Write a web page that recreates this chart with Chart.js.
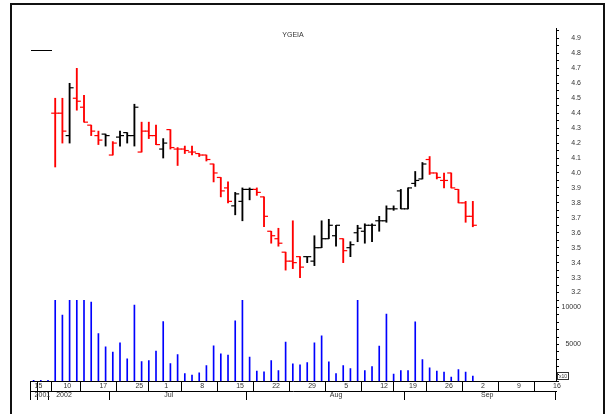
<!DOCTYPE html>
<html>
<head>
<meta charset="utf-8">
<script src="https://cdn.jsdelivr.net/npm/chart.js@4.4.1/dist/chart.umd.min.js"></script>
<style>
  html, body { margin: 0; padding: 0; background: #fff; }
  #wrap { position: relative; width: 605px; height: 414px; overflow: hidden; }
  #frame { position: absolute; left: 10px; top: 3px; width: 591px; height: 430px; border: 2px solid #111; }
  #chart { position: absolute; left: 0; top: 0; }
  #mult { position: absolute; left: 557px; top: 372px; width: 10px; height: 6px; border: 1px solid #333;
          font: 5px 'Liberation Sans', Arial, sans-serif; line-height: 6px; color: #333; text-align: center; }
</style>
</head>
<body>
<div id="wrap">
  <div id="frame"></div>
  <canvas id="chart" width="605" height="414"></canvas>
  <div id="mult">x10</div>
</div>
<script>
const chartTitle = 'YGEIA';

// trading-day axis: tick positions (bar index) and their labels
const dayTickIdx  = [0, 1, 4, 9, 14, 18, 23, 28, 33, 38, 43, 48, 52, 57, 62, 67, 72];
const dayTickText = ['15', '', '10', '17', '25', '1', '8', '15', '22', '29', '5', '12', '19', '26', '2', '9', '16'];
const periodTickIdx  = [0, 1, 3, 18, 41, 62];
const periodTickText = ['2001', '', '2002', 'Jul', 'Aug', 'Sep'];
const volTickVals = [5000, 10000];
const volTickText = ['5000', '10000'];

// volume per bar, from bar 0
const volumes = [
  150, 150, 150, 11000, 8960, 11000, 11000, 11000, 10710, 6480,
  4680, 3960, 5220, 3050, 10310, 2700, 2840, 4100, 8100, 2430,
  3650, 1080, 850, 1170, 2160, 4810, 3730, 3550, 8190, 11000,
  3280, 1390, 1300, 2840, 1490, 5310, 2380, 2240, 2560, 5220,
  6160, 2650, 1080, 2160, 1750, 11000, 1490, 2020, 4770, 9100,
  990, 1490, 1490, 8060, 2970, 1840, 1390, 1260, 580, 1620,
  1260, 720
];

// price bars start at bar 3
const firstPriceBar = 3;
const opens = [
  4.40, 4.40, 4.25, 4.50, 4.44, 4.32, 4.25, 4.26, 4.12, 4.24,
  4.27, 4.25, 4.14, 4.28, 4.25, 4.16, 4.29, 4.16, 4.16, 4.14,
  4.13, 4.12, 4.06, 3.97, 3.90, 3.78, 3.81, 3.89, 3.89, 3.84,
  3.61, 3.56, 3.47, 3.41, 3.44, 3.44, 3.41, 3.50, 3.56, 3.58,
  3.56, 3.50, 3.60, 3.61, 3.65, 3.68, 3.68, 3.76, 3.88, 3.76,
  3.93, 3.96, 4.09, 4.00, 3.95, 4.00, 3.89, 3.80, 3.71
];
const highs = [
  4.50, 4.50, 4.60, 4.70, 4.52, 4.32, 4.28, 4.26, 4.21, 4.28,
  4.27, 4.46, 4.34, 4.34, 4.32, 4.23, 4.29, 4.17, 4.18, 4.18,
  4.13, 4.12, 4.06, 3.97, 3.94, 3.87, 3.90, 3.90, 3.90, 3.84,
  3.61, 3.63, 3.47, 3.68, 3.44, 3.44, 3.58, 3.68, 3.69, 3.65,
  3.56, 3.54, 3.65, 3.66, 3.66, 3.71, 3.78, 3.78, 3.89, 3.90,
  4.01, 4.07, 4.11, 4.00, 4.00, 4.00, 3.89, 3.81, 3.81
];
const lows = [
  4.04, 4.20, 4.20, 4.42, 4.34, 4.25, 4.19, 4.18, 4.12, 4.18,
  4.20, 4.18, 4.14, 4.23, 4.19, 4.10, 4.16, 4.05, 4.13, 4.12,
  4.11, 4.08, 3.94, 3.84, 3.80, 3.72, 3.68, 3.82, 3.85, 3.64,
  3.53, 3.51, 3.35, 3.36, 3.30, 3.40, 3.38, 3.50, 3.56, 3.51,
  3.40, 3.44, 3.54, 3.53, 3.54, 3.61, 3.67, 3.75, 3.76, 3.76,
  3.91, 3.96, 3.99, 3.96, 3.90, 3.90, 3.80, 3.67, 3.64
];
const closes = [
  4.40, 4.28, 4.57, 4.48, 4.34, 4.28, 4.22, 4.25, 4.20, 4.25,
  4.25, 4.44, 4.28, 4.25, 4.19, 4.20, 4.17, 4.16, 4.15, 4.14,
  4.12, 4.09, 4.00, 3.88, 3.81, 3.86, 3.89, 3.89, 3.87, 3.71,
  3.58, 3.53, 3.41, 3.40, 3.37, 3.44, 3.50, 3.56, 3.65, 3.65,
  3.48, 3.52, 3.63, 3.65, 3.65, 3.68, 3.76, 3.76, 3.76, 3.90,
  3.95, 4.06, 4.00, 3.97, 3.95, 3.90, 3.80, 3.71, 3.65
];

const xMin = -0.5, xMax = 72.55;
const font = { family: "'Liberation Sans', Arial, sans-serif", size: 7 };
const textColor = '#333';

// red when the close falls below the previous close
const barColor = k => (k === 0 || closes[k] < closes[k - 1]) ? '#ff0000' : '#000000';

const titleMark = {
  id: 'titleMark',
  afterDraw(chart) {
    const { ctx, chartArea } = chart;
    ctx.save();
    ctx.fillStyle = textColor;
    ctx.font = `7px ${font.family}`;
    ctx.textAlign = 'center';
    ctx.textBaseline = 'middle';
    ctx.fillText(chartTitle, (chartArea.left + chartArea.right) / 2, 35.5);
    ctx.strokeStyle = '#000';
    ctx.lineWidth = 1;
    ctx.beginPath();
    ctx.moveTo(31, 50.5);
    ctx.lineTo(52, 50.5);
    ctx.stroke();
    ctx.restore();
  }
};

const tickMarks = (datasetValues, rotation) => ({
  type: 'scatter',
  xAxisID: 'x',
  yAxisID: 'yp',
  data: datasetValues.map((v, k) => ({ x: firstPriceBar + k, y: v })),
  pointStyle: 'dash',
  pointRotation: rotation,
  pointRadius: 4,
  pointBorderWidth: 1.2,
  pointBorderColor: c => barColor(c.dataIndex),
  pointBackgroundColor: c => barColor(c.dataIndex)
});

new Chart(document.getElementById('chart'), {
  type: 'bar',
  data: {
    datasets: [
      {
        type: 'bar',
        xAxisID: 'x',
        yAxisID: 'yv',
        data: volumes.map((v, i) => ({ x: i, y: v })),
        backgroundColor: '#0000ff',
        barThickness: 1,
        grouped: false
      },
      {
        type: 'bar',
        xAxisID: 'x',
        yAxisID: 'yp',
        data: highs.map((h, k) => ({ x: firstPriceBar + k, y: [lows[k], h] })),
        backgroundColor: c => barColor(c.dataIndex),
        barThickness: 1.2,
        grouped: false
      },
      tickMarks(opens, 180),
      tickMarks(closes, 0)
    ]
  },
  options: {
    responsive: false,
    animation: false,
    devicePixelRatio: 1,
    events: [],
    layout: { padding: { left: 30, right: 24, top: 28, bottom: 13 } },
    plugins: { legend: { display: false }, tooltip: { enabled: false } },
    scales: {
      x: {
        type: 'linear', position: 'bottom', weight: 0, min: xMin, max: xMax, offset: false,
        afterBuildTicks: s => { s.ticks = dayTickIdx.map(v => ({ value: v })); },
        afterFit: s => { s.height = 9.5; },
        grid: { drawOnChartArea: false, drawTicks: true, tickLength: 9.5, color: '#000', lineWidth: 1 },
        border: { display: true, color: '#000' },
        ticks: { autoSkip: false, maxRotation: 0, align: 'start', labelOffset: 1, padding: -9,
                 font, color: textColor, callback: (v, i) => dayTickText[i] }
      },
      x2: {
        type: 'linear', position: 'bottom', weight: 1, min: xMin, max: xMax, offset: false,
        afterBuildTicks: s => { s.ticks = periodTickIdx.map(v => ({ value: v })); },
        afterFit: s => { s.height = 10; },
        grid: { drawOnChartArea: false, drawTicks: true, tickLength: 9, color: '#000', lineWidth: 1 },
        border: { display: true, color: '#000' },
        ticks: { autoSkip: false, maxRotation: 0, align: 'start', labelOffset: 1, padding: -9,
                 font, color: textColor, callback: (v, i) => periodTickText[i] }
      },
      yp: {
        type: 'linear', position: 'right', stack: 'right', stackWeight: 272, weight: 0,
        min: 3.15, max: 4.97,
        afterFit: s => { s.width = 25; },
        grid: { drawOnChartArea: false, tickLength: 3, color: '#000' },
        border: { display: true, color: '#000' },
        ticks: { stepSize: 0.05, includeBounds: false, autoSkip: false, crossAlign: 'far', padding: 2,
                 font, color: textColor,
                 callback: v => Math.round(v * 100) % 10 === 0 ? v.toFixed(1) : '' }
      },
      yv: {
        type: 'linear', position: 'right', stack: 'right', stackWeight: 81.5, weight: 1,
        min: 0, max: 11000,
        afterFit: s => { s.width = 25; },
        grid: { drawOnChartArea: false, tickLength: 3, color: '#000' },
        border: { display: true, color: '#000' },
        ticks: { stepSize: 1000, autoSkip: false, crossAlign: 'far', padding: 2,
                 font, color: textColor,
                 callback: v => { const j = volTickVals.indexOf(v); return j < 0 ? '' : volTickText[j]; } }
      }
    }
  },
  plugins: [titleMark]
});
</script>
</body>
</html>
